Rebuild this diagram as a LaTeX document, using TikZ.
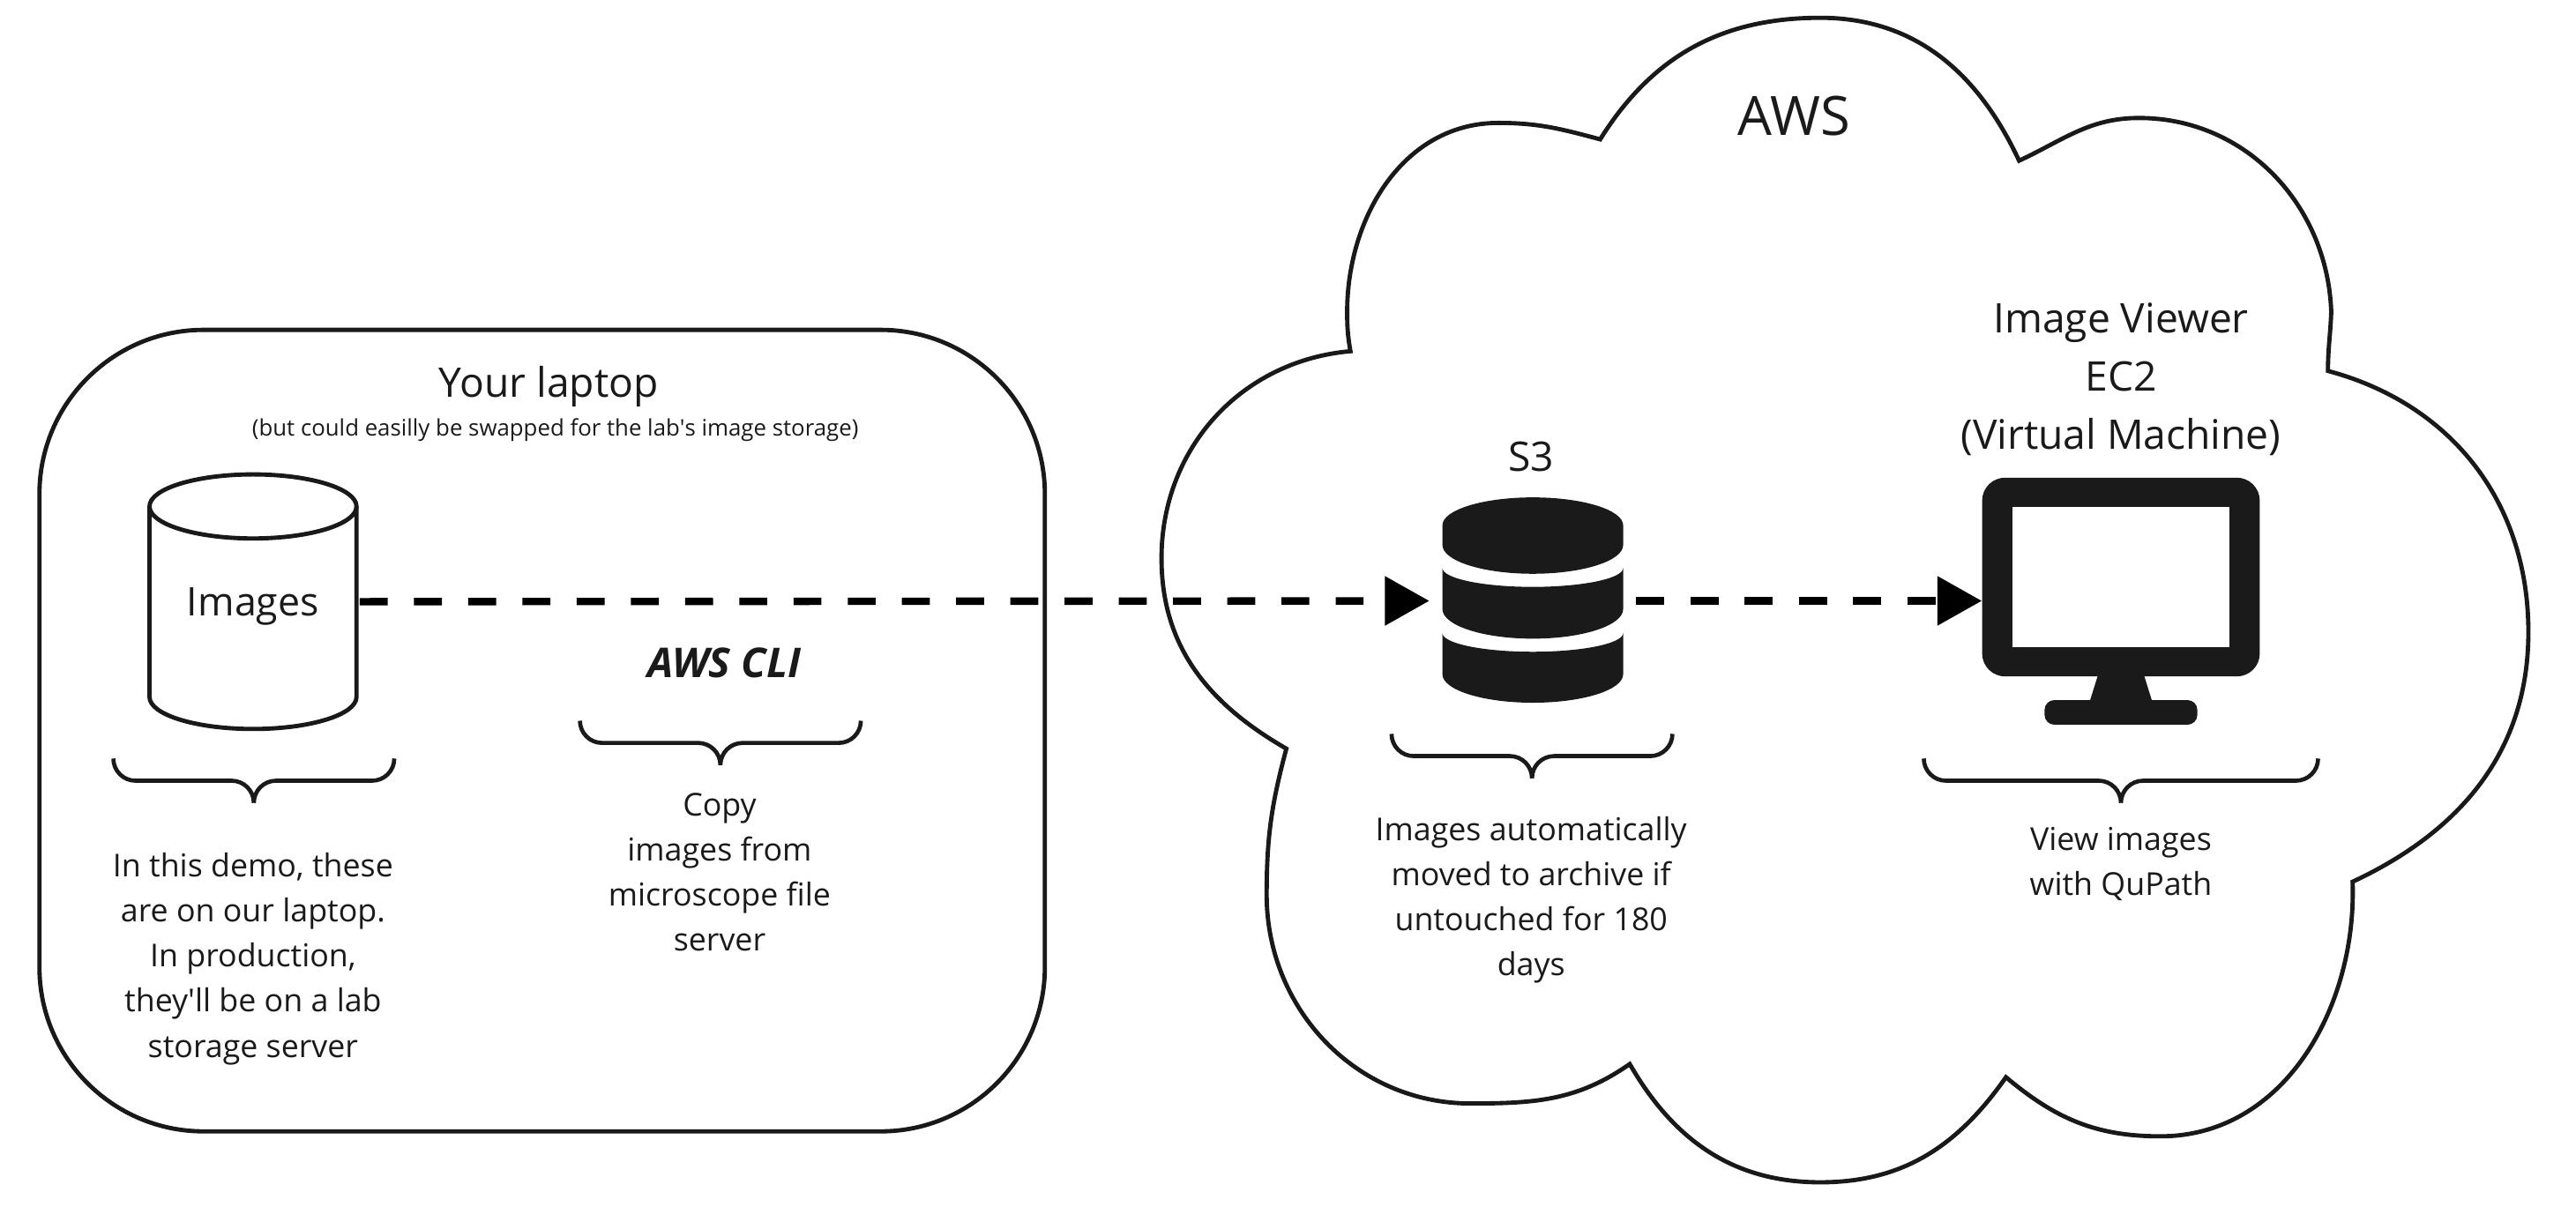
\documentclass[tikz,border=0pt]{standalone}
\usepackage{fontspec}
\setmainfont{Open Sans}
\usepackage{xcolor}
\usetikzlibrary{arrows.meta,positioning,calc}
\definecolor{inkdark}{HTML}{1A1A1A}
\tikzset{
  outline/.style={draw=black!90,line width=2.6pt},
  bodytext/.style={text=inkdark,align=center,inner sep=0pt,font=\fontsize{19.2}{27.4}\selectfont},
  headtext/.style={text=inkdark,align=center,inner sep=0pt,font=\fontsize{24.8}{35.5}\selectfont},
  flowline/.style={draw=black,line width=4.5pt,dash pattern=on 17pt off 16pt,-{Triangle[length=27pt,width=29pt]}},
  iconfill/.style={fill=inkdark,draw=none,inner sep=0pt},
  pics/bracemark/.style={code={
    \draw[draw=inkdark,line width=2.5pt,rounded corners=13.5pt] (-#1,0) -- (-#1,-13.5) -- (0,-13.5) -- (0,-27) (#1,0) -- (#1,-13.5) -- (0,-13.5) -- (0,-27);
  }}
}
\begin{document}
\begin{tikzpicture}[x=1pt,y=1pt]
      \useasboundingbox (0,0) rectangle (1568,734.85);

      \node[outline,rounded corners=100pt,minimum width=612pt,minimum height=488pt,inner sep=0pt] (laptop) at (330,290) {};
      \draw[outline] (974,650) to[out=58,in=180] (1108,724) to[out=0,in=115] (1229,637)
        to[out=25,in=180] (1302,663) to[out=0,in=92] (1419,545) to[out=-92,in=90] (1417,509)
        to[out=-15,in=90] (1539,350) to[out=-90,in=25] (1432,198)
        to[out=-88,in=0] (1315,43) to[out=180,in=-40] (1221,79)
        to[out=-125,in=0] (1108,15) to[out=180,in=-60] (992,87)
        to[out=-145,in=0] (895,63) to[out=180,in=-90] (771,190) to[out=90,in=-105] (783,279)
        to[out=150,in=-90] (707,395) to[out=90,in=185] (822,521)
        to[out=100,in=-90] (820,545) to[out=90,in=180] (912,660) to[out=0,in=165] (974,650) -- cycle;

      \node[headtext] (laptoptitle) at (334,499.5) {Your laptop};
      \node[text=inkdark,inner sep=0pt,font=\fontsize{13.85}{16}\selectfont] (laptopnote) at (338,473) {(but could easilly be swapped for the lab\textquotesingle s image storage)};
      \node[headtext,font=\fontsize{33}{38}\selectfont] (awstitle) at (1092,664) {AWS};

      \node[inner sep=0pt,minimum width=126pt,minimum height=155pt,outer sep=2pt] (images) at (154,368.5) {};
      \draw[outline] ($(images.north)+(0,-21.5)$) ellipse [x radius=63,y radius=19.5];
      \draw[outline] ($(images.north west)+(2,-21.5)$) -- ($(images.south west)+(2,21.5)$) arc[start angle=180,end angle=360,x radius=63,y radius=19.5] -- ($(images.north east)+(-2,-21.5)$);
      \node[headtext,font=\fontsize{24}{30}\selectfont] (imageslabel) at ($(images.center)+(0,-3)$) {Images};

      \node[inner sep=0pt,minimum width=110pt,minimum height=126pt,outer sep=8pt] (s3) at (933,369) {};
      \node[headtext] (s3title) at (932,457) {S3};
      \begin{scope}[shift={(s3.center)}]
      \fill[inkdark] (-55,46) arc[start angle=180,end angle=0,x radius=55,y radius=17] -- (55,34) arc[start angle=0,end angle=-180,x radius=55,y radius=17.5] -- cycle;
      \fill[inkdark] (-55,20) arc[start angle=180,end angle=360,x radius=55,y radius=11.5] -- (55,-5) arc[start angle=0,end angle=-180,x radius=55,y radius=18] -- cycle;
      \fill[inkdark] (-55,-19.6) arc[start angle=180,end angle=360,x radius=55,y radius=11.4] -- (55,-44.7) arc[start angle=0,end angle=-180,x radius=55,y radius=17.3] -- cycle;
      \end{scope}

      \node[iconfill,rounded corners=14pt,minimum width=169pt,minimum height=121pt] (viewer) at (1291,383.5) {};
      \node[fill=white,inner sep=0pt,minimum width=132pt,minimum height=85pt] (screen) at (1291,383.5) {};
      \node[iconfill,rounded corners=6pt,minimum width=93pt,minimum height=15pt,below=14pt of viewer.south] (stand) {};
      \fill[inkdark] ($(viewer.south)+(-14,1)$) -- ($(stand.north)+(-19,-1)$) -- ($(stand.north)+(19,-1)$) -- ($(viewer.south)+(14,1)$) -- cycle;
      \node[headtext] (viewertitle) at (1291,504) {Image Viewer\\EC2\\(Virtual Machine)};

      \draw[flowline] (images.east) -- (s3.west);
      \draw[flowline] (s3.east) -- (s3.east -| viewer.west);

      \node[text=inkdark,inner sep=0pt,font=\bfseries\itshape\fontsize{25}{30}\selectfont] (awscli) at (441,331) {AWS CLI};

      \pic (imagesbrace) at (154.5,273) {bracemark=85.5};
      \pic (copybrace) at (438.5,296) {bracemark=85.5};
      \pic (s3brace) at (932.5,288) {bracemark=85.5};
      \pic (viewerbrace) at (1291,273) {bracemark=120};

      \node[bodytext] (imagesnote) at (154,151) {In this demo, these\\are on our laptop.\\In production,\\they\textquotesingle ll be on a lab\\storage server};
      \node[bodytext] (copynote) at (438,204) {Copy\\images from\\microscope file\\server};
      \node[bodytext] (s3note) at (932,187) {Images automatically\\moved to archive if\\untouched for 180\\days};
      \node[bodytext] (viewernote) at (1291,209) {View images\\with QuPath};
\end{tikzpicture}
\end{document}
